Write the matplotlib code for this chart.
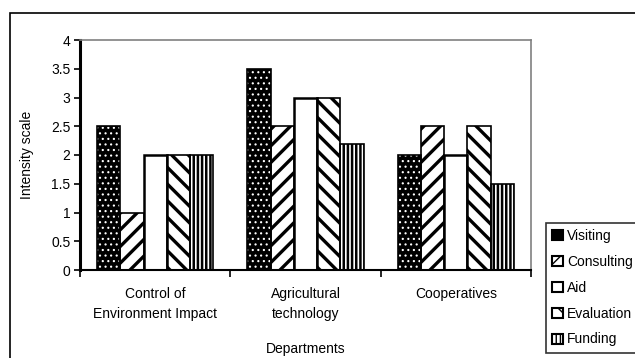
import matplotlib
matplotlib.use("Agg")
import matplotlib.pyplot as plt
import numpy as np
from matplotlib.patches import Rectangle

plt.rcParams['font.family'] = ['Liberation Sans', 'DejaVu Sans']

departments = ["Control of\nEnvironment Impact", "Agricultural\ntechnology", "Cooperatives"]
series_names = ["Visiting", "Consulting", "Aid", "Evaluation", "Funding"]
visiting = [2.5, 3.5, 2.0]
consulting = [1.0, 2.5, 2.5]
aid = [2.0, 3.0, 2.0]
evaluation = [2.0, 3.0, 2.5]
funding = [2.0, 2.2, 1.5]
y_ticks = [0, 0.5, 1, 1.5, 2, 2.5, 3, 3.5, 4]
y_tick_labels = ["0", "0.5", "1", "1.5", "2", "2.5", "3", "3.5", "4"]

series = [visiting, consulting, aid, evaluation, funding]
# (facecolor, hatch colour, hatch pattern, hatch line width) per series
styles = [
    ("black", "white", "...", 0.8),
    ("white", "black", "//", 2.4),
    ("white", "black", None, 1.0),
    ("white", "black", "\\\\", 2.4),
    ("white", "black", "||||", 1.8),
]

fig = plt.figure(figsize=(6.35, 3.58), dpi=100)
fig.patch.set_facecolor("white")

# outer chart frame (runs off the right and bottom edges)
fig.add_artist(Rectangle((10 / 635, -0.05), 1.0, (358 - 13) / 358 + 0.05,
                         transform=fig.transFigure, fill=False,
                         edgecolor="black", linewidth=1.2))

ax = fig.add_axes([80 / 635, (358 - 270) / 358, (531 - 80) / 635, (270 - 40) / 358])

x = np.arange(len(departments))
width = 0.155
handles = []
for i, (vals, name, (fc, hc, hatch, hlw)) in enumerate(zip(series, series_names, styles)):
    pos = x + (i - 2) * width
    with plt.rc_context({'hatch.linewidth': hlw}):
        b = ax.bar(pos, vals, width, color=fc, edgecolor=hc, hatch=hatch,
                   linewidth=0, zorder=2)
        for p in b.patches:
            if hasattr(p, "set_hatch_linewidth"):
                p.set_hatch_linewidth(hlw)
        ax.bar(pos, vals, width, fill=False, edgecolor="black",
               linewidth=1.8 if hatch is None else 1.2, zorder=3)
        h = Rectangle((0, 0), 1, 1, facecolor=fc,
                      edgecolor="black", hatch=None if fc == "black" else hatch,
                      linewidth=1.5, label=name)
        if hasattr(h, "set_hatch_linewidth"):
            h.set_hatch_linewidth(min(hlw, 1.5))
    handles.append(h)

ax.set_xlim(-0.5, 2.5)
ax.set_ylim(0, 4)
ax.set_yticks(y_ticks)
ax.set_yticklabels(y_tick_labels, fontsize=10)
ax.set_xticks(x)
ax.set_xticklabels(departments, fontsize=10, linespacing=1.55)
ax.set_xticks([-0.5, 0.5, 1.5, 2.5], minor=True)
ax.tick_params(axis="x", which="major", length=0, pad=12)
ax.tick_params(axis="x", which="minor", length=5, width=1.2, direction="out")
ax.tick_params(axis="y", length=4, width=1.2, direction="out", pad=3)

for side in ("top", "right"):
    ax.spines[side].set_color("#808080")
    ax.spines[side].set_linewidth(1.2)
ax.spines["left"].set_linewidth(2.2)
ax.spines["bottom"].set_linewidth(1.5)

ax.set_ylabel("Intensity scale", fontsize=10, labelpad=12)
ax.set_xlabel("Departments", fontsize=10, labelpad=15)

leg = fig.legend(handles=handles, loc="upper left",
                 bbox_to_anchor=(546 / 635, (358 - 223) / 358),
                 fontsize=10, frameon=True, fancybox=False,
                 handlelength=0.75, handleheight=0.75, handletextpad=0.3,
                 labelspacing=0.85, borderpad=0.45, borderaxespad=0)
leg.get_frame().set_edgecolor("black")
leg.get_frame().set_linewidth(1.2)

fig.savefig("out.png", dpi=100)
